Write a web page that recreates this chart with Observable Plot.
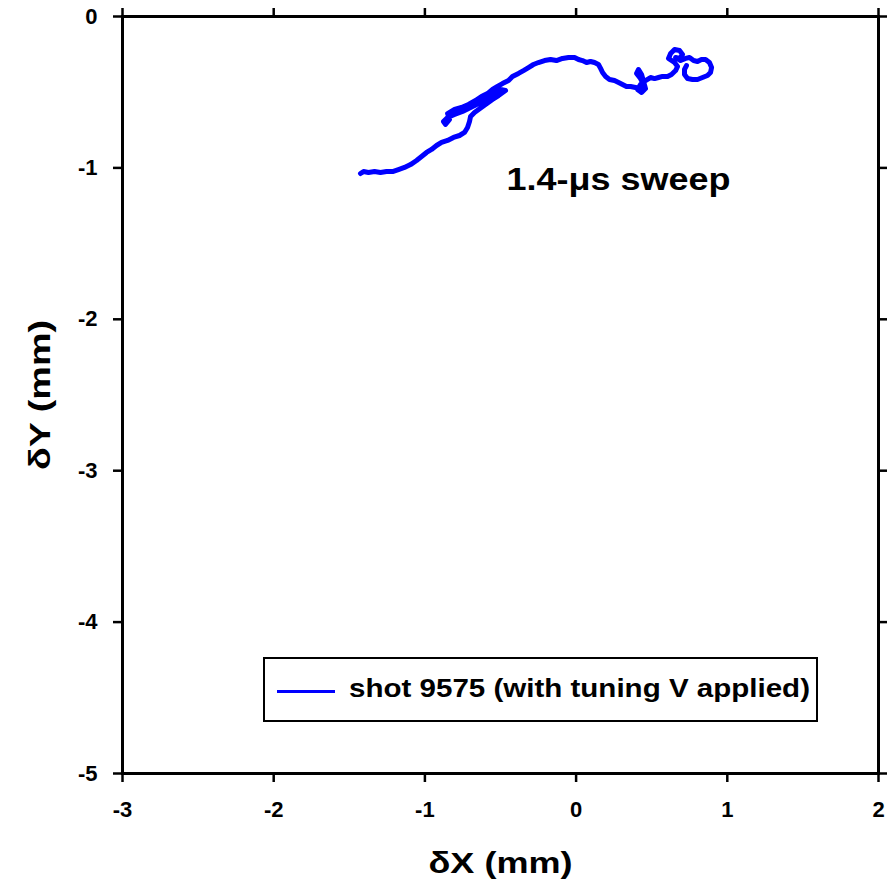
<!DOCTYPE html>
<html>
<head>
<meta charset="utf-8">
<script src="https://cdn.jsdelivr.net/npm/d3@7"></script>
<script src="https://cdn.jsdelivr.net/npm/@observablehq/plot@0.6"></script>
<style>
  html, body { margin: 0; padding: 0; background: #fff; }
  #wrap { position: relative; width: 887px; height: 890px; font-family: "Liberation Sans", Arial, sans-serif; }
  #legend { position: absolute; left: 263px; top: 657px; width: 551px; height: 61px; border: 2.5px solid #000; background: #fff; box-sizing: content-box; }
  #legend .sw { position: absolute; left: 12px; top: 31px; width: 58px; height: 3px; background: #0000ff; }
  #legend .lb { position: absolute; left: 84px; top: 14px; font-weight: bold; font-size: 26px; white-space: nowrap; color: #000; transform-origin: 0 50%; }
</style>
</head>
<body>
<div id="wrap"></div>
<script>
// Trace of shot 9575 (mm)
const dX = [-1.426,-1.406,-1.373,-1.333,-1.294,-1.254,-1.214,-1.175,-1.135,-1.095,-1.055,-1.022,-0.989,-0.956,-0.923,-0.890,-0.850,-0.811,-0.771,-0.738,-0.718,-0.705,-0.698,-0.672,-0.645,
  -0.599,-0.553,-0.513,-0.467,-0.500,-0.546,-0.592,-0.645,-0.698,-0.751,-0.804,-0.850,-0.877,-0.864,-0.837,-0.850,-0.804,-0.758,-0.712,-0.665,-0.626,-0.586,-0.553,-0.520,-0.487,-0.447,-0.421,-0.381,-0.348,-0.315,-0.282,-0.249,-0.209,-0.169,-0.130,-0.090,-0.050,-0.010,
  0.016,0.042,0.069,0.095,0.122,0.148,0.162,0.175,0.195,0.221,0.254,0.281,0.307,0.333,0.360,0.393,0.426,0.446,0.426,0.400,0.413,0.433,0.446,0.459,0.433,0.406,0.426,0.459,0.492,0.519,0.545,0.572,0.605,0.631,0.658,0.671,0.651,0.611,0.625,0.651,0.684,0.704,0.684,0.658,0.691,0.724,0.750,0.777,0.803,0.829,0.856,0.882,0.896,0.889,0.869,0.836,0.803,0.770,0.737,0.717,0.717,0.730];
const dY = [-1.037,-1.024,-1.030,-1.024,-1.030,-1.024,-1.024,-1.011,-0.997,-0.978,-0.951,-0.925,-0.898,-0.878,-0.852,-0.832,-0.819,-0.799,-0.786,-0.766,-0.733,-0.694,-0.661,-0.634,-0.614,
  -0.581,-0.548,-0.522,-0.489,-0.482,-0.509,-0.542,-0.575,-0.601,-0.627,-0.647,-0.667,-0.694,-0.713,-0.680,-0.641,-0.614,-0.601,-0.581,-0.555,-0.528,-0.509,-0.482,-0.462,-0.443,-0.423,-0.396,-0.376,-0.357,-0.337,-0.317,-0.304,-0.291,-0.284,-0.291,-0.277,-0.271,-0.271,
  -0.284,-0.291,-0.304,-0.297,-0.304,-0.317,-0.343,-0.370,-0.396,-0.416,-0.423,-0.436,-0.449,-0.462,-0.462,-0.469,-0.476,-0.449,-0.410,-0.376,-0.350,-0.383,-0.429,-0.476,-0.502,-0.482,-0.449,-0.423,-0.403,-0.410,-0.403,-0.396,-0.396,-0.383,-0.357,-0.330,-0.304,-0.277,-0.244,-0.218,-0.225,-0.251,-0.277,-0.271,-0.291,-0.277,-0.271,-0.291,-0.297,-0.284,-0.284,-0.304,-0.337,-0.370,-0.390,-0.403,-0.416,-0.416,-0.410,-0.383,-0.350,-0.324];

const xTicks = [-3, -2, -1, 0, 1, 2];
const yTicks = [0, -1, -2, -3, -4, -5];
const xLabel = "δX (mm)";
const yLabel = "δY (mm)";
const seriesName = "shot 9575 (with tuning V applied)";
const annotation = [{x: 0.28, y: -1.08, text: "1.4-μs sweep"}];

const trace = dX.map((x, i) => ({x, y: dY[i]}));
const blue = "#0000ff";
const fmt = d => String(d);

const chart = Plot.plot({
  width: 887,
  height: 890,
  marginLeft: 122,
  marginRight: 9,
  marginTop: 16,
  marginBottom: 117,
  x: {domain: [-3, 2]},
  y: {domain: [-5, 0]},
  style: {fontFamily: "'Liberation Sans', Arial, sans-serif", fontWeight: "bold", fontSize: "22px", background: "#fff", color: "#000", overflow: "visible"},
  marks: [
    Plot.axisX(xTicks, {anchor: "bottom", tickSize: 9, tickPadding: 19, strokeWidth: 2.5, label: null, tickFormat: fmt, fontSize: 22, fontWeight: "bold"}),
    Plot.axisX(xTicks, {anchor: "top", tickSize: 9, strokeWidth: 2.5, label: null, text: null}),
    Plot.axisY(yTicks, {anchor: "left", tickSize: 9, tickPadding: 16, strokeWidth: 2.5, label: null, tickFormat: fmt, fontSize: 22, fontWeight: "bold"}),
    Plot.axisY(yTicks, {anchor: "right", tickSize: 9, strokeWidth: 2.5, label: null, text: null}),
    Plot.line(trace, {x: "x", y: "y", stroke: blue, strokeWidth: 5, strokeLinejoin: "round", strokeLinecap: "round"}),
    Plot.text(annotation, {x: "x", y: "y", text: "text", fontSize: 31, fontWeight: "bold", fill: "#000", className: "annot"}),
    Plot.text([xLabel], {frameAnchor: "bottom", dy: 99, fontSize: 29, fontWeight: "bold", fill: "#000", className: "xlab"}),
    Plot.text([yLabel], {frameAnchor: "left", textAnchor: "middle", dx: -82, rotate: -90, fontSize: 29, fontWeight: "bold", fill: "#000", className: "ylab"}),
    Plot.frame({stroke: "#000", strokeWidth: 3})
  ]
});

// stretch texts horizontally to match the reference's wide lettering
const stretch = (cls, len) => {
  chart.querySelectorAll(`g.${cls} text`).forEach(t => {
    t.setAttribute("textLength", len);
    t.setAttribute("lengthAdjust", "spacingAndGlyphs");
  });
};
stretch("annot", 224);
stretch("xlab", 144);
stretch("ylab", 150);

const wrap = document.getElementById("wrap");
wrap.appendChild(chart);
const legend = document.createElement("div");
legend.id = "legend";
legend.innerHTML = `<div class="sw"></div><div class="lb"></div>`;
const lb = legend.querySelector(".lb");
lb.textContent = seriesName;
wrap.appendChild(legend);
const w = lb.getBoundingClientRect().width;
lb.style.transform = `scaleX(${461 / w})`;
</script>
</body>
</html>
